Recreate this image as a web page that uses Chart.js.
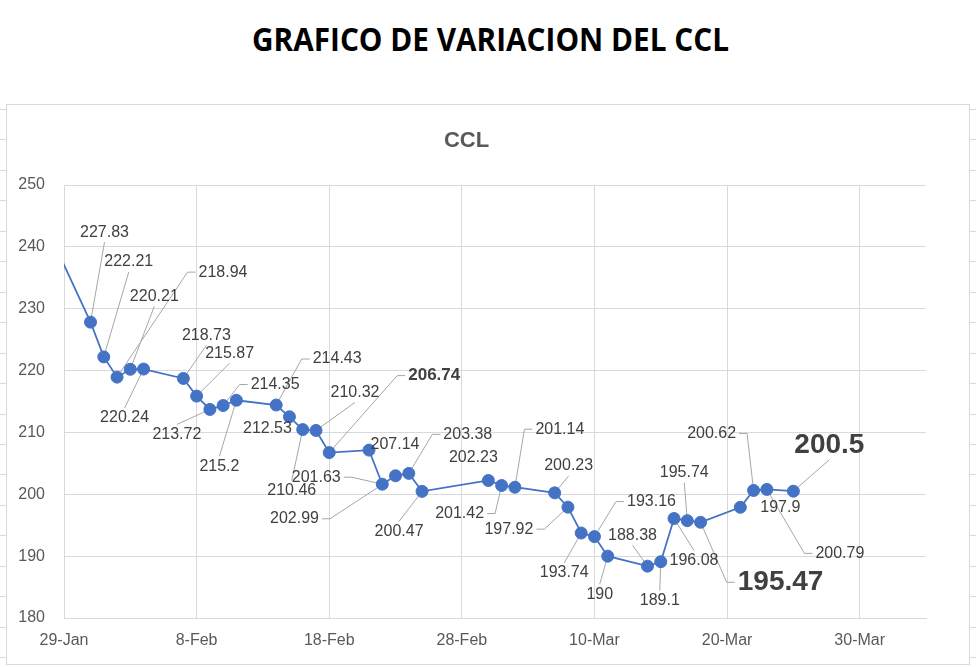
<!DOCTYPE html>
<html><head><meta charset="utf-8">
<script src="https://cdn.jsdelivr.net/npm/chart.js@4/dist/chart.umd.min.js"></script>
<style>
html,body{margin:0;padding:0;background:#fff;width:980px;height:667px;overflow:hidden;}
#title{position:absolute;left:0;top:22px;width:980px;text-align:center;font-family:"Open Sans",sans-serif;font-weight:700;font-size:33px;color:#000;line-height:1;white-space:nowrap;}
#tt{display:inline-block;transform-origin:center center;}
#box{position:absolute;left:6px;top:104px;width:962px;height:559px;border:1px solid #d9d9d9;}
#box canvas{display:block;}
.stub{position:absolute;height:1px;width:6px;background:#d9d9d9;}
</style></head><body>
<div id="title"><span id="tt">GRAFICO DE VARIACION DEL CCL</span></div>
<div id="box"><canvas id="c" width="962" height="559"></canvas></div>
<script>
// ---- data ----
const chartTitle = 'CCL';
const dates = ['2022-01-28','2022-01-31','2022-02-01','2022-02-02','2022-02-03','2022-02-04',
  '2022-02-07','2022-02-08','2022-02-09','2022-02-10','2022-02-11',
  '2022-02-14','2022-02-15','2022-02-16','2022-02-17','2022-02-18',
  '2022-02-21','2022-02-22','2022-02-23','2022-02-24','2022-02-25',
  '2022-03-02','2022-03-03','2022-03-04',
  '2022-03-07','2022-03-08','2022-03-09','2022-03-10','2022-03-11',
  '2022-03-14','2022-03-15','2022-03-16','2022-03-17','2022-03-18',
  '2022-03-21','2022-03-22','2022-03-23','2022-03-25'];
const values = [241.7,227.83,222.21,218.94,220.21,220.24,
  218.73,215.87,213.72,214.35,215.2,
  214.43,212.53,210.46,210.32,206.74,
  207.14,201.63,202.99,203.38,200.47,
  202.23,201.42,201.14,
  200.23,197.92,193.74,193.16,190,
  188.38,189.1,196.08,195.74,195.47,
  197.9,200.62,200.79,200.5];
const axisStart = '2022-01-29';
const axisEndDays = 65;
const xTickStepDays = 10;
const yMin = 180, yMax = 250, yStep = 10;
const monthNames = ['Jan','Feb','Mar','Apr','May','Jun','Jul','Aug','Sep','Oct','Nov','Dec'];

// ---- label placement (style only) ----
const labelOffsets = [null,[14,-90],[25,-95],[106,-105],[24,-73],[-19,49],
  [23,-43],[33,-43],[-33,25],[52,-21],[-17,66],
  [61,-46],[-22,12],[-11,61],[39,-38],[105,-77],
  [26,-6],[-66,-7],[-101,43],[59,-39],[-23,40],
  [-15,-23],[-42,28],[45,-58],
  [14,-27],[-59,22],[-17,40],[57,-35],[-8,38],
  [-15,-31],[-1,39],[20,42],[-3,-48],[80,60],
  [40,0],[-42,-57],[73,64],[36,-46]];
const noLeader = [0,12,16,21,34];
const labelStyle = {15:{size:17,weight:'bold'},33:{size:28,weight:'bold'},37:{size:28,weight:'bold'}};

// ---- helpers ----
const DAY = 86400000;
function toUTC(s){const p=s.split('-').map(Number);return Date.UTC(p[0],p[1]-1,p[2]);}
const t0 = toUTC(axisStart);
function dayIndex(s){return Math.round((toUTC(s)-t0)/DAY);}
function fmtDay(v){const d=new Date(t0+v*DAY);return d.getUTCDate()+'-'+monthNames[d.getUTCMonth()];}
function fmtVal(v){return String(v);}

const points = dates.map((d,i)=>({x:dayIndex(d),y:values[i]}));

// spreadsheet cell stubs (decoration)
for(let k=0;k<19;k++){
  const y = Math.round(109+30.45*k);
  ['0px','970px'].forEach(l=>{const s=document.createElement('div');s.className='stub';s.style.left=l;s.style.top=y+'px';document.body.appendChild(s);});
}

// title fit
const tt=document.getElementById('tt');
const w=tt.getBoundingClientRect().width;
tt.style.transform='scaleX('+(477/w)+')';

const FONT='"Liberation Sans", Arial, sans-serif';
const labelPlugin = {
  id:'pointLabels',
  _geom(chart){
    const meta=chart.getDatasetMeta(0);const ctx=chart.ctx;const out=[];
    meta.data.forEach((el,i)=>{
      const off=labelOffsets[i]; if(!off) return;
      const st=labelStyle[i]||{size:16,weight:'normal'};
      ctx.font=st.weight+' '+st.size+'px '+FONT;
      const txt=fmtVal(values[i]);
      const tw=ctx.measureText(txt).width;
      const cx=el.x+off[0], cy=el.y+off[1];
      out.push({i,el,txt,st,tw,cx,cy,th:st.size*0.75});
    });
    return out;
  },
  beforeDatasetsDraw(chart){
    const ctx=chart.ctx;
    ctx.save();ctx.strokeStyle='#a6a6a6';ctx.lineWidth=1;
    this._geom(chart).forEach(g=>{
      if(noLeader.includes(g.i)) return;
      const l=g.cx-g.tw/2, r=g.cx+g.tw/2, px=g.el.x, py=g.el.y;
      ctx.beginPath();
      if(px>=l-15 && px<=r+15){
        const ay = py<g.cy ? g.cy-g.th/2-4 : g.cy+g.th/2+4;
        ctx.moveTo(g.cx,ay);ctx.lineTo(px,py);
      } else {
        const sx = px<l ? l-3 : r+3;
        const ex = px<l ? sx-8 : sx+8;
        ctx.moveTo(sx,g.cy);ctx.lineTo(ex,g.cy);ctx.lineTo(px,py);
      }
      ctx.stroke();
    });
    ctx.restore();
  },
  afterDatasetsDraw(chart){
    const ctx=chart.ctx;
    ctx.save();ctx.fillStyle='#404040';ctx.textAlign='center';ctx.textBaseline='middle';
    this._geom(chart).forEach(g=>{
      ctx.font=g.st.weight+' '+g.st.size+'px '+FONT;
      ctx.fillText(g.txt,g.cx,g.cy);
    });
    ctx.restore();
  }
};

new Chart(document.getElementById('c').getContext('2d'),{
  type:'line',
  data:{datasets:[{label:chartTitle,data:points,borderColor:'#4472C4',backgroundColor:'#4472C4',
    borderWidth:1.75,pointRadius:6,pointHoverRadius:6,pointBackgroundColor:'#4472C4',
    pointBorderColor:'#4472C4',pointBorderWidth:1,tension:0,clip:0}]},
  options:{
    responsive:false,animation:false,events:[],
    layout:{padding:{left:0,right:43,top:0,bottom:0}},
    plugins:{
      legend:{display:false},tooltip:{enabled:false},
      title:{display:true,text:chartTitle,color:'#595959',
        font:{family:FONT,size:22,weight:'bold'},padding:{top:23,bottom:30.6}}
    },
    scales:{
      x:{type:'linear',min:0,max:axisEndDays,
        afterBuildTicks:s=>{s.ticks=s.ticks.filter(t=>t.value%xTickStepDays===0);},
        afterFit:s=>{s.height=46;},
        ticks:{stepSize:xTickStepDays,padding:13,color:'#595959',font:{family:FONT,size:16},
          maxRotation:0,autoSkip:false,callback:v=>fmtDay(v)},
        grid:{color:'#d9d9d9',drawTicks:false},border:{color:'#d9d9d9'}},
      y:{min:yMin,max:yMax,
        afterFit:s=>{s.width=57;},
        ticks:{stepSize:yStep,padding:19,color:'#595959',font:{family:FONT,size:16}},
        grid:{color:'#d9d9d9',drawTicks:false},border:{display:false}}
    }
  },
  plugins:[labelPlugin]
});
</script>
</body></html>
